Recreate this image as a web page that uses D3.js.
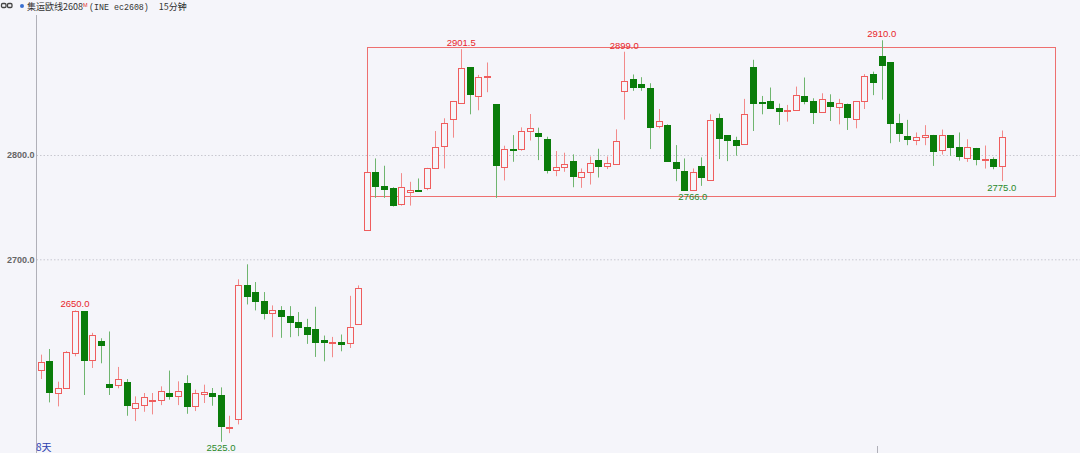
<!DOCTYPE html>
<html><head><meta charset="utf-8">
<script src="https://cdn.jsdelivr.net/npm/d3@7"></script>
<style>
html,body{margin:0;padding:0;background:#f5f5fa;}
svg{display:block;}
</style></head>
<body><svg id="c" width="1080" height="453"></svg>
<script>
const opens = [2593.6,2602.2,2572.4,2576.9,2609.9,2650.0,2603.5,2622.1,2580.1,2578.8,2582.7,2557.7,2560.2,2564.1,2565.1,2571.8,2568.6,2581.4,2559.6,2570.8,2571.8,2570.2,2537.8,2546.8,2675.6,2668.9,2659.9,2648.0,2651.0,2646.1,2639.7,2635.2,2633.3,2622.4,2620.2,2621.1,2619.9,2638.4,
2728.1,2783.6,2770.4,2767.9,2753.4,2764.3,2766.6,2768.2,2787.1,2808.6,2834.2,2849.9,2883.9,2856.6,2874.6,2848.6,2788.1,2806.0,2805.7,2823.3,2821.1,2815.3,2785.5,2788.4,2794.1,2779.1,2783.6,2795.4,2789.0,2791.9,2861.5,2872.7,2867.9,2864.7,2827.5,2828.8,2792.9,2784.5,2766.5,2789.0,2775.9,2835.8,2819.1,2814.7,2810.5,2883.9,2851.2,2851.8,2845.4,2842.2,2843.2,2856.6,2851.8,2841.0,2850.6,2846.1,2849.3,2834.2,2851.8,2878.0,2894.9,2888.9,2830.8,2818.0,2814.8,2817.1,2819.3,2804.2,2818.7,2807.5,2797.2,2806.8,2794.9,2796.2,2788.9];
const highs = [2608.6,2614.0,2582.7,2612.0,2651.0,2650.0,2629.5,2624.3,2630.8,2596.8,2585.2,2568.6,2571.8,2571.8,2578.2,2593.3,2583.0,2588.8,2575.0,2579.8,2576.6,2577.2,2550.0,2680.8,2695.2,2678.2,2668.6,2655.8,2655.1,2655.1,2649.4,2642.9,2654.5,2626.9,2625.6,2627.9,2665.0,2675.0,
2783.3,2796.7,2789.7,2769.1,2782.6,2774.3,2777.5,2787.7,2823.0,2835.2,2851.8,2901.5,2883.9,2876.8,2888.7,2848.6,2808.9,2819.1,2826.5,2839.3,2826.2,2817.5,2803.8,2802.2,2800.6,2787.1,2798.6,2806.0,2798.6,2824.6,2899.0,2877.2,2874.6,2868.8,2844.1,2829.4,2809.5,2796.7,2787.1,2797.7,2839.0,2839.7,2819.1,2817.5,2853.8,2891.3,2856.6,2864.7,2849.3,2848.0,2865.6,2874.3,2854.4,2859.2,2858.2,2853.8,2849.3,2851.8,2877.5,2879.9,2910.0,2888.9,2839.5,2833.7,2821.6,2828.6,2819.3,2824.4,2818.7,2821.6,2815.1,2806.8,2809.1,2797.8,2823.5];
const lows = [2585.2,2562.8,2559.0,2576.0,2607.0,2569.9,2595.8,2600.3,2569.9,2576.3,2550.0,2544.9,2553.8,2551.3,2560.2,2565.4,2560.2,2551.9,2554.5,2562.2,2559.6,2525.0,2533.3,2541.7,2656.7,2651.0,2642.3,2625.3,2624.7,2625.3,2626.3,2618.9,2606.4,2602.2,2606.1,2611.8,2615.0,2637.5,
2728.1,2758.9,2758.9,2750.6,2751.5,2751.5,2765.3,2766.3,2787.1,2787.1,2816.6,2849.9,2839.0,2842.9,2860.2,2758.9,2775.6,2793.5,2804.1,2813.9,2795.1,2782.3,2779.7,2783.9,2769.1,2768.5,2771.7,2778.4,2786.5,2791.9,2833.9,2861.5,2861.5,2805.7,2825.6,2793.5,2774.9,2766.5,2766.0,2770.4,2775.9,2796.1,2794.1,2799.3,2810.5,2823.0,2839.0,2844.1,2828.8,2832.0,2843.2,2848.6,2829.7,2841.0,2832.6,2829.4,2824.0,2825.6,2844.1,2857.4,2853.0,2811.3,2812.6,2809.4,2809.4,2809.4,2789.5,2800.4,2799.1,2794.6,2793.4,2790.1,2787.0,2786.3,2775.0];
const closes = [2601.3,2572.4,2576.9,2611.2,2650.0,2603.2,2627.6,2618.3,2577.6,2584.9,2560.2,2562.2,2568.3,2565.4,2573.4,2568.6,2573.4,2559.6,2571.8,2572.7,2568.6,2540.4,2539.1,2675.6,2664.7,2659.9,2648.7,2651.0,2645.5,2640.4,2635.2,2628.5,2621.1,2620.5,2621.1,2619.2,2635.2,2672.7,
2783.3,2770.4,2767.5,2751.5,2769.5,2766.3,2765.3,2787.1,2807.6,2830.4,2851.8,2883.2,2858.2,2874.9,2875.5,2790.0,2805.7,2804.7,2823.3,2825.9,2818.2,2785.5,2788.7,2791.3,2779.7,2783.9,2791.9,2789.3,2791.9,2813.7,2871.0,2865.0,2865.0,2827.2,2832.6,2794.1,2787.1,2766.5,2783.3,2778.4,2833.6,2816.6,2814.7,2810.2,2839.7,2849.3,2850.2,2845.4,2842.2,2843.5,2857.6,2852.2,2841.0,2853.8,2846.4,2849.9,2836.5,2851.8,2876.2,2870.3,2886.3,2830.8,2820.9,2815.1,2817.4,2818.7,2803.6,2818.7,2806.8,2798.8,2807.5,2795.9,2795.9,2789.5,2817.1];

const yTicks = [2700, 2800];
const yTickLabels = ["2700.0", "2800.0"];
// marked extremes: [candle index, kind, label]
const markIdx = [4, 21, 49, 68, 76, 98, 112];
const markKind = ["high","low","high","high","low","high","low"];
const markText = ["2650.0","2525.0","2901.5","2899.0","2766.0","2910.0","2775.0"];
// range box: start index, end index, top price, bottom price
const boxIdx = [38, 118.2];
const boxPrice = [2903.4, 2760.7];
const dayBreaks = [97.5];
const titleName = "集运欧线2608";
const titleCode = "(INE ec2608)";
const titlePeriod = "15分钟";
const bottomLabel = "8天";

const svg = d3.select("#c");
const W = 1080, H = 453;
const x = d3.scaleLinear().domain([0, 112]).range([40.7, 1001.8]);
const y = d3.scaleLinear().domain([2700, 2800]).range([259.3, 155]);

const RED = "#ef5d5d", RED_W = "#f28a8a", GREEN = "#0a7c0a", GREEN_W = "#6fb56f";
const BG = "#f5f5fa";

svg.append("rect").attr("width", W).attr("height", H).attr("fill", BG);

// grid lines
const gy = d3.axisLeft(y).tickValues(yTicks).tickSize(-(W - 36)).tickFormat((d,i)=>yTickLabels[i]);
const gAxis = svg.append("g").attr("transform", "translate(36.5,0)").call(gy);
gAxis.select(".domain").remove();
gAxis.selectAll(".tick line").attr("stroke", "#c8c8d0").attr("stroke-dasharray", "1.5,2");
gAxis.selectAll(".tick text").attr("x", -2).attr("fill", "#666").attr("font-family", "Liberation Sans, Arial, sans-serif")
  .attr("font-size", "9px").attr("font-weight", "bold");

// axis line
svg.append("line").attr("x1", 36.5).attr("x2", 36.5).attr("y1", 15).attr("y2", H).attr("stroke", "#b0b0b8");

// day break ticks
svg.selectAll(".brk").data(dayBreaks).enter().append("line")
  .attr("x1", d => Math.round(x(d)) + 0.5).attr("x2", d => Math.round(x(d)) + 0.5)
  .attr("y1", 446).attr("y2", H).attr("stroke", "#b0b0b8");

// box
svg.append("rect")
  .attr("x", Math.round(x(boxIdx[0])) + 0.5).attr("y", Math.round(y(boxPrice[0])) + 0.5)
  .attr("width", Math.round(x(boxIdx[1]) - x(boxIdx[0])))
  .attr("height", Math.round(y(boxPrice[1]) - y(boxPrice[0])))
  .attr("fill", "none").attr("stroke", "#ee6f6f").attr("stroke-width", 1);

const data = opens.map((o, i) => ({i, o, h: highs[i], l: lows[i], c: closes[i]}));
const g = svg.append("g");
const cand = g.selectAll(".k").data(data).enter().append("g");
cand.append("line")
  .attr("x1", d => Math.round(x(d.i)) + 0.5).attr("x2", d => Math.round(x(d.i)) + 0.5)
  .attr("y1", d => y(d.h)).attr("y2", d => y(d.l))
  .attr("stroke", d => d.c >= d.o ? RED_W : GREEN_W).attr("stroke-width", 1);
cand.append("rect")
  .attr("x", d => Math.round(x(d.i)) - 3 + 0.5)
  .attr("y", d => Math.round(y(Math.max(d.o, d.c))) + 0.5)
  .attr("width", 6)
  .attr("height", d => Math.max(1, Math.round(y(Math.min(d.o, d.c)) - y(Math.max(d.o, d.c)))))
  .attr("fill", d => d.c >= d.o ? BG : GREEN)
  .attr("stroke", d => d.c >= d.o ? RED : GREEN).attr("stroke-width", 1);

// extreme labels
svg.selectAll(".mk").data(markIdx).enter().append("text")
  .attr("x", d => x(d))
  .attr("y", (d, k) => markKind[k] === "high" ? y(highs[d]) - 3 : y(lows[d]) + 9.5)
  .attr("text-anchor", "middle")
  .attr("font-family", "Liberation Sans, Arial, sans-serif").attr("font-size", "9.5px")
  .attr("fill", (d, k) => markKind[k] === "high" ? "#e8262b" : "#2a8a2a")
  .text((d, k) => markText[k]);

// header
const hd = svg.append("g");
hd.append("rect").attr("x", 1.5).attr("y", 3.5).attr("width", 4.5).attr("height", 4).attr("rx", 1.2).attr("fill", "none").attr("stroke", "#444").attr("stroke-width", 1.3);
hd.append("rect").attr("x", 7.5).attr("y", 3.5).attr("width", 4.5).attr("height", 4).attr("rx", 1.2).attr("fill", "none").attr("stroke", "#444").attr("stroke-width", 1.3);
hd.append("circle").attr("cx", 22).attr("cy", 6).attr("r", 2).attr("fill", "#3a6fd0");
const t = hd.append("text").attr("x", 27).attr("y", 10).attr("font-size", "9px").attr("fill", "#333")
  .attr("font-family", "Noto Sans CJK SC, sans-serif");
t.append("tspan").text(titleName);
t.append("tspan").attr("font-size", "5.5px").attr("dy", -3).attr("fill", "#e03030").attr("font-family","Liberation Sans").text("M");
t.append("tspan").attr("dy", 3).attr("dx", 1.5).attr("font-family", "Liberation Mono, monospace").attr("font-size", "8.3px").text(titleCode);
t.append("tspan").attr("dx", 10).text(titlePeriod);
const tw = t.node().getComputedTextLength();
const cx0 = 27 + tw + 3;
hd.append("path").attr("d", `M${cx0},5 L${cx0+3},8 L${cx0+6},5`).attr("fill", "none").attr("stroke", "#444").attr("stroke-width", 1);

// bottom label
svg.append("text").attr("x", 36).attr("y", 451).attr("font-size", "10px").attr("fill", "#2c3fb0")
  .attr("font-family", "Noto Sans CJK SC, sans-serif").text(bottomLabel);
</script></body></html>
